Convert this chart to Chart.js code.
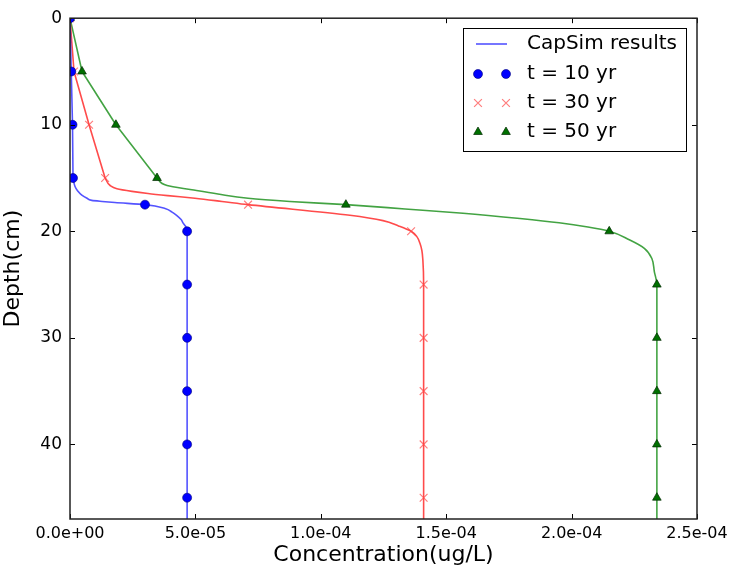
<!DOCTYPE html>
<html>
<head>
<meta charset="utf-8">
<title>CapSim concentration profiles</title>
<script src="https://cdn.jsdelivr.net/npm/chart.js@4.4.1/dist/chart.umd.min.js"></script>
<style>
  html, body { margin: 0; padding: 0; background: #fff; }
  #wrap { width: 734px; height: 569px; }
</style>
</head>
<body>
<div id="wrap"><canvas id="profile" width="734" height="569"></canvas></div>
<script>
// ---- sampled depths (cm) and concentrations (ug/L) ----
const markDepth = [0, 5, 10, 15, 17.5, 20, 25, 30, 35, 40, 45];
const conc10yr = [0, 5e-7, 1.0e-6, 1.2e-6, 2.99e-5, 4.67e-5, 4.67e-5, 4.67e-5, 4.67e-5, 4.67e-5, 4.67e-5];
const conc30yr = [0, 1.6e-6, 7.6e-6, 1.4e-5, 7.1e-5, 1.36e-4, 1.41e-4, 1.41e-4, 1.41e-4, 1.41e-4, 1.41e-4];
const conc50yr = [0, 4.8e-6, 1.83e-5, 3.47e-5, 1.10e-4, 2.15e-4, 2.34e-4, 2.34e-4, 2.34e-4, 2.34e-4, 2.34e-4];

// ---- CapSim model curves (coarse 5 cm cells down to 15 cm, fine below) ----
const capDepth10 = [0, 5, 10, 15, 15.8, 16.2, 16.6, 16.9, 17.1, 17.2, 17.3, 17.5, 17.85, 18.2, 18.5, 18.9, 19.26, 19.6, 20, 25, 47];
const capConc10 = [0, 5e-7, 1.0e-6, 1.2e-6, 2.0e-6, 3.0e-6, 4.7e-6, 6.8e-6, 8.7e-6, 1.28e-5, 1.79e-5, 2.99e-5, 3.79e-5, 4.07e-5, 4.25e-5, 4.43e-5, 4.52e-5, 4.63e-5, 4.67e-5, 4.67e-5, 4.67e-5];
const capDepth30 = [0, 5, 10, 15, 15.7, 16.0, 16.25, 16.45, 16.65, 16.9, 17.2, 17.5, 18.5, 19, 19.5, 20, 20.5, 21.1, 21.8, 22.7, 25, 47];
const capConc30 = [0, 1.6e-6, 7.6e-6, 1.4e-5, 1.6e-5, 1.87e-5, 2.47e-5, 3.11e-5, 3.9e-5, 4.98e-5, 6.06e-5, 7.1e-5, 1.116e-4, 1.248e-4, 1.31e-4, 1.36e-4, 1.383e-4, 1.395e-4, 1.403e-4, 1.407e-4, 1.41e-4, 1.41e-4];
const capDepth50 = [0, 5, 10, 15, 15.7, 16.1, 16.5, 16.9, 17.2, 17.5, 17.9, 18.3, 18.8, 19.2, 19.6, 20, 20.8, 21.6, 22.55, 23.8, 25, 47];
const capConc50 = [0, 4.8e-6, 1.83e-5, 3.47e-5, 3.87e-5, 4.86e-5, 5.9e-5, 7.1e-5, 8.77e-5, 1.10e-4, 1.336e-4, 1.567e-4, 1.794e-4, 1.95e-4, 2.065e-4, 2.15e-4, 2.23e-4, 2.29e-4, 2.32e-4, 2.33e-4, 2.34e-4, 2.34e-4];
const coarseCells = 4; // points at 0, 5, 10, 15 cm joined by straight segments

const yTicks = [0, 10, 20, 30, 40];
const xTicks = [0, 5e-5, 1e-4, 1.5e-4, 2e-4, 2.5e-4];
const legendLabels = ['CapSim results', 't = 10 yr', 't = 30 yr', 't = 50 yr'];

const FONT = 'DejaVu Sans';
const pts = (xs, ys) => xs.map((x, i) => ({ x, y: ys[i] }));

// matplotlib style exponent: 1.5e-04
function sci(v) {
  const [m, e] = Number(v).toExponential(1).split('e');
  const n = parseInt(e, 10);
  return m + 'e' + (n < 0 ? '-' : '+') + String(Math.abs(n)).padStart(2, '0');
}

const markerSets = [
  { label: legendLabels[1], data: pts(conc10yr, markDepth), pointStyle: 'circle', pointRadius: 4.5,
    pointBackgroundColor: '#0000ff', pointBorderColor: '#00007a', pointBorderWidth: 0.6 },
  { label: legendLabels[2], data: pts(conc30yr, markDepth), pointStyle: 'crossRot', pointRadius: 5.5,
    pointBackgroundColor: 'rgba(255,70,70,0.7)', pointBorderColor: 'rgba(255,70,70,0.7)', pointBorderWidth: 1.2 },
  { label: legendLabels[3], data: pts(conc50yr, markDepth), pointStyle: 'triangle', pointRadius: 5,
    pointBackgroundColor: '#007000', pointBorderColor: '#002a00', pointBorderWidth: 0.7 },
].map(d => Object.assign(d, { showLine: false, clip: 0 }));

const curves = [
  { conc: capConc10, depth: capDepth10, color: 'rgba(40,40,255,0.8)' },
  { conc: capConc30, depth: capDepth30, color: 'rgba(255,30,30,0.8)' },
  { conc: capConc50, depth: capDepth50, color: 'rgba(20,140,20,0.8)' },
];

// each curve: straight upper part, smooth monotone lower part
const curveSets = [];
curves.forEach(c => {
  const all = pts(c.conc, c.depth);
  const base = { label: legendLabels[0], showLine: true, pointRadius: 0, borderWidth: 1.6,
    borderColor: c.color, borderJoinStyle: 'round', clip: 0 };
  curveSets.push(Object.assign({}, base, { data: all.slice(0, coarseCells), tension: 0 }));
  curveSets.push(Object.assign({}, base, { data: all.slice(coarseCells - 1), cubicInterpolationMode: 'monotone' }));
});

// axes frame with inward ticks on all four sides
const frameTicks = {
  id: 'frameTicks',
  afterDatasetsDraw(chart) {
    const { ctx, chartArea: a, scales: { x, y } } = chart;
    ctx.save();
    ctx.strokeStyle = '#000';
    ctx.lineWidth = 1;
    const L = 5;
    ctx.beginPath();
    xTicks.forEach(v => {
      const px = Math.round(x.getPixelForValue(v)) + 0.5;
      ctx.moveTo(px, a.bottom); ctx.lineTo(px, a.bottom - L);
      ctx.moveTo(px, a.top); ctx.lineTo(px, a.top + L);
    });
    yTicks.forEach(v => {
      const py = Math.round(y.getPixelForValue(v)) + 0.5;
      ctx.moveTo(a.left, py); ctx.lineTo(a.left + L, py);
      ctx.moveTo(a.right, py); ctx.lineTo(a.right - L, py);
    });
    ctx.stroke();
    ctx.lineWidth = 1.5;
    ctx.strokeStyle = '#222';
    ctx.strokeRect(a.left, a.top, a.right - a.left, a.bottom - a.top);
    ctx.restore();
  }
};

// legend box: one line sample, two markers per scatter entry
const boxLegend = {
  id: 'boxLegend',
  afterDraw(chart) {
    const { ctx } = chart;
    const bx = 463, by = 28, bw = 223, bh = 123;
    ctx.save();
    ctx.fillStyle = '#fff';
    ctx.fillRect(bx, by, bw, bh);
    ctx.strokeStyle = '#000';
    ctx.lineWidth = 1;
    ctx.strokeRect(bx + 0.5, by + 0.5, bw, bh);

    const rows = [44, 74, 103, 132];
    ctx.strokeStyle = 'rgba(40,40,255,0.8)';
    ctx.lineWidth = 1.6;
    ctx.beginPath(); ctx.moveTo(476, rows[0]); ctx.lineTo(507, rows[0]); ctx.stroke();

    markerSets.forEach((d, i) => {
      ctx.fillStyle = d.pointBackgroundColor;
      ctx.strokeStyle = d.pointBorderColor;
      ctx.lineWidth = d.pointBorderWidth;
      [478, 506].forEach(mx => Chart.helpers.drawPoint(ctx,
        { pointStyle: d.pointStyle, radius: d.pointRadius, rotation: 0, borderWidth: d.pointBorderWidth },
        mx, rows[i + 1]));
    });

    ctx.fillStyle = '#000';
    ctx.font = '20px "' + FONT + '"';
    ctx.textBaseline = 'middle';
    ctx.textAlign = 'left';
    legendLabels.forEach((t, i) => ctx.fillText(t, 527, rows[i]));
    ctx.restore();
  }
};

new Chart(document.getElementById('profile'), {
  type: 'line',
  data: { datasets: [...markerSets, ...curveSets] },
  plugins: [frameTicks, boxLegend],
  options: {
    responsive: false,
    animation: false,
    indexAxis: 'y',
    layout: { padding: { top: 18, right: 37, left: 0, bottom: 0 } },
    plugins: { legend: { display: false }, tooltip: { enabled: false } },
    scales: {
      x: {
        type: 'linear', min: 0, max: 2.5e-4,
        afterFit: s => { s.height = 50; },
        afterBuildTicks: s => { s.ticks = xTicks.map(v => ({ value: v })); },
        grid: { display: false, drawTicks: false },
        border: { display: false },
        ticks: { color: '#000', padding: 5, font: { family: FONT, size: 16 }, callback: v => sci(v), maxRotation: 0 },
        title: { display: true, text: 'Concentration(ug/L)', color: '#000', padding: { top: 0, bottom: 1 }, font: { family: FONT, size: 22 } }
      },
      y: {
        type: 'linear', min: 0, max: 47, reverse: true,
        afterFit: s => { s.width = 70; },
        afterBuildTicks: s => { s.ticks = yTicks.map(v => ({ value: v })); },
        grid: { display: false, drawTicks: false },
        border: { display: false },
        ticks: { color: '#000', padding: 8, font: { family: FONT, size: 17 } },
        title: { display: true, text: 'Depth(cm)', color: '#000', padding: 0, font: { family: FONT, size: 22 } }
      }
    }
  }
});
</script>
</body>
</html>
